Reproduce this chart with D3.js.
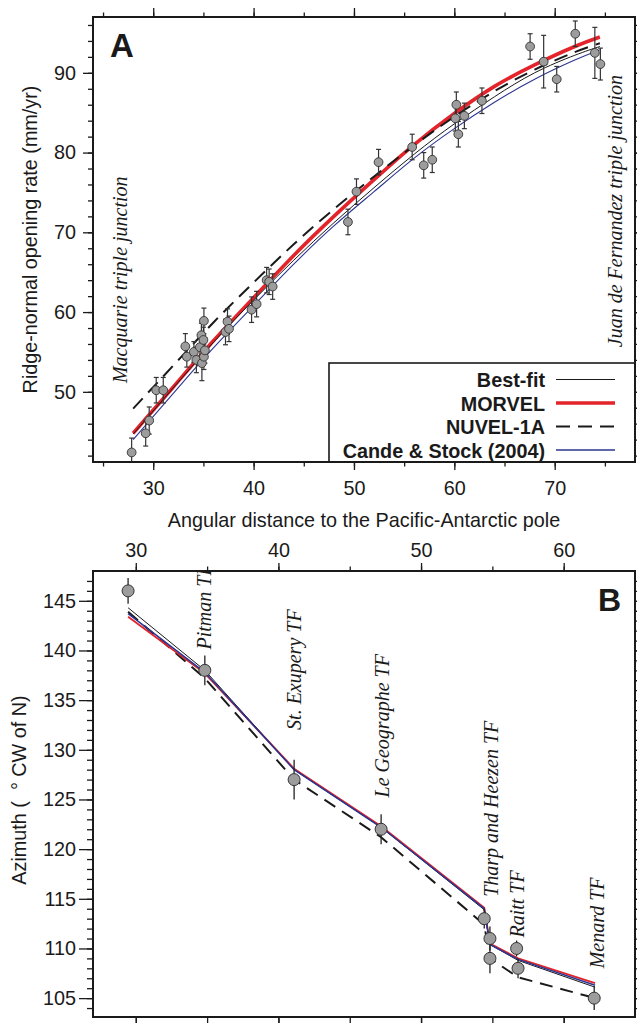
<!DOCTYPE html>
<html>
<head>
<meta charset="utf-8">
<script src="https://cdn.jsdelivr.net/npm/d3@7"></script>
<style>
  body { margin: 0; background: #fff; }
  svg text { font-family: "Liberation Sans", Arial, Helvetica, sans-serif; fill: #1a1a1a; }
</style>
</head>
<body>
<div id="vis"></div>
<script>
// ---- Panel A : ridge-normal opening rate vs angular distance ----
var rateDist = [27.85, 29.25, 29.6, 30.3, 31.0, 33.2, 33.35, 34.05, 34.3, 34.65, 34.8, 34.85, 35.0, 35.05,
                35.05, 35.15, 37.2, 37.4, 37.55, 39.8, 40.3, 41.3, 41.55, 41.9, 49.4, 50.25, 52.45, 55.8,
                56.95, 57.8, 60.1, 60.2, 60.4, 61.0, 62.75, 67.55, 68.9, 70.2, 72.05, 74.0, 74.55];
var rateObs  = [42.4, 44.8, 46.4, 50.2, 50.2, 55.7, 54.4, 55.0, 54.0, 55.6, 57.1, 53.6, 56.5, 58.9,
                54.4, 55.2, 57.5, 58.8, 57.9, 60.3, 61.0, 64.0, 63.8, 63.2, 71.3, 75.1, 78.8, 80.7,
                78.4, 79.1, 84.3, 86.0, 82.3, 84.6, 86.5, 93.3, 91.4, 89.2, 94.9, 92.5, 91.1];
var rateErr  = [1.8, 1.6, 1.7, 1.6, 1.6, 1.6, 1.3, 1.3, 1.6, 1.6, 1.5, 2.2, 1.6, 1.6,
                1.6, 1.6, 1.6, 1.6, 1.6, 1.6, 1.6, 1.6, 1.6, 1.6, 1.6, 1.6, 1.6, 1.6,
                1.6, 1.6, 1.6, 1.6, 1.6, 1.6, 1.6, 1.6, 3.3, 1.6, 1.6, 3.2, 2.0];

// model predictions
var curveDist   = [28, 32, 36, 40, 44, 48, 52, 56, 60, 64, 68, 72, 74.5];
var bestFitRate = [44.7, 50.5, 56.2, 61.5, 66.5, 71.2, 75.6, 79.8, 83.6, 87.0, 90.0, 92.2, 93.3];
var morvelRate  = [44.8, 50.6, 56.4, 61.8, 67.1, 72.0, 76.6, 81.0, 84.9, 88.3, 91.0, 93.3, 94.5];
var nuvelRate   = [47.9, 53.3, 58.7, 63.7, 68.5, 72.9, 77.0, 80.9, 84.5, 87.7, 90.4, 92.6, 93.7];
var candeRate   = [44.0, 49.8, 55.5, 60.8, 66.0, 70.8, 75.1, 79.3, 83.0, 86.3, 89.2, 91.6, 92.9];

var legendNames = ["Best-fit", "MORVEL", "NUVEL-1A", "Cande & Stock (2004)"];

// ---- Panel B : transform fault azimuths ----
var tfDist    = [29.46, 34.84, 41.1, 47.2, 54.43, 54.83, 54.83, 56.7, 56.8, 62.14];
var tfAzimuth = [146.0, 138.0, 127.0, 122.0, 113.0, 111.0, 109.0, 110.0, 108.0, 105.0];
var tfErr     = [1.3, 1.5, 2.0, 1.5, 1.0, 1.2, 1.5, 0.8, 1.0, 1.2];

var modelDist  = [29.46, 34.84, 41.1, 47.2, 54.43, 54.83, 56.8, 62.2];
var bestFitAz  = [144.3, 138.0, 128.0, 122.2, 113.9, 110.4, 108.8, 106.1];
var morvelAz   = [143.4, 137.7, 128.1, 122.3, 114.1, 110.5, 109.0, 106.5];
var nuvelAz    = [143.9, 137.2, 127.0, 121.2, 112.4, 109.0, 107.1, 105.0];
var candeAz    = [143.7, 137.8, 128.0, 122.2, 114.0, 110.4, 108.9, 106.3];

var tfNames = ["Pitman TF", "St. Exupery TF", "Le Geographe TF", "Tharp and Heezen TF", "Raitt TF", "Menard TF"];

var red = "#e3242b", blue = "#2b3592", dotFill = "#9c9c9c", ink = "#1a1a1a";

function styleTicks(g, size)
{
  g.select(".domain").remove();
  g.selectAll("line").attr("stroke", ink).attr("stroke-width", 1.3);
  g.selectAll("text")
    .style("font-size", size + "px")
    .style("font-family", "'Liberation Sans', Arial, sans-serif")
    .attr("fill", ink);
}

function axisPair(svg, axisFn, scale, major, minor, bigLen, smallLen, pad, pos, fmt)
{
  var gMinor = svg.append("g")
    .attr("transform", pos)
    .call(axisFn(scale).tickValues(minor).tickSize(smallLen).tickFormat(""));
  styleTicks(gMinor, 19);

  var gMajor = svg.append("g")
    .attr("transform", pos)
    .call(axisFn(scale).tickValues(major).tickSize(bigLen).tickPadding(pad).tickFormat(fmt));
  styleTicks(gMajor, 19.8);
  return gMajor;
}

function panelA(svg)
{
  var left = 93, right = 635, top = 17, bottom = 462;

  var x = d3.scaleLinear().domain([24, 78]).range([left, right]);
  var y = d3.scaleLinear().domain([41.2, 97]).range([bottom, top]);

  svg.append("clipPath").attr("id", "clipA")
    .append("rect").attr("x", left).attr("y", top).attr("width", right - left).attr("height", bottom - top);

  var plot = svg.append("g").attr("clip-path", "url(#clipA)");

  var line = function(ys) {
    return d3.line()
      .x(function(d, i) { return x(curveDist[i]); })
      .y(function(d) { return y(d); })
      .curve(d3.curveNatural)(ys);
  };

  plot.append("path").attr("d", line(morvelRate))
    .style("fill", "none").style("stroke", red).style("stroke-width", 3.6);
  plot.append("path").attr("d", line(bestFitRate))
    .style("fill", "none").style("stroke", ink).style("stroke-width", 1);
  plot.append("path").attr("d", line(candeRate))
    .style("fill", "none").style("stroke", blue).style("stroke-width", 1.1);
  plot.append("path").attr("d", line(nuvelRate))
    .style("fill", "none").style("stroke", ink).style("stroke-width", 2)
    .style("stroke-dasharray", "14,8");

  var idx = d3.range(rateDist.length);

  // error bars with caps
  var bars = plot.selectAll("g.err").data(idx).enter().append("g").attr("class", "err")
    .style("stroke", "#333").style("stroke-width", 1.2);
  bars.append("line")
    .attr("x1", function(i) { return x(rateDist[i]); })
    .attr("x2", function(i) { return x(rateDist[i]); })
    .attr("y1", function(i) { return y(rateObs[i] - rateErr[i]); })
    .attr("y2", function(i) { return y(rateObs[i] + rateErr[i]); });
  [-1, 1].forEach(function(s) {
    bars.append("line")
      .attr("x1", function(i) { return x(rateDist[i]) - 2.5; })
      .attr("x2", function(i) { return x(rateDist[i]) + 2.5; })
      .attr("y1", function(i) { return y(rateObs[i] + s * rateErr[i]); })
      .attr("y2", function(i) { return y(rateObs[i] + s * rateErr[i]); });
  });

  plot.selectAll("circle.obs").data(idx).enter().append("circle")
    .attr("class", "obs")
    .attr("cx", function(i) { return x(rateDist[i]); })
    .attr("cy", function(i) { return y(rateObs[i]); })
    .attr("r", 4.4)
    .style("fill", dotFill).style("stroke", "#333").style("stroke-width", 0.9);

  // triple junction labels
  var tj = [["Macquarie triple junction", 27.4, 51.1], ["Juan de Fernandez triple junction", 76.7, 55.6]];
  tj.forEach(function(t) {
    svg.append("text")
      .attr("transform", "translate(" + x(t[1]) + "," + y(t[2]) + ") rotate(-90)")
      .style("font-family", "'Liberation Serif', 'Times New Roman', serif")
      .style("font-style", "italic")
      .style("font-size", "20px")
      .text(t[0]);
  });

  // axes
  var majorX = [30, 40, 50, 60, 70], minorX = [25, 30, 35, 40, 45, 50, 55, 60, 65, 70, 75];
  var majorY = [50, 60, 70, 80, 90], minorY = d3.range(42, 97, 2);

  axisPair(svg, d3.axisBottom, x, majorX, minorX, 8, 4.5, 11, "translate(0," + bottom + ")", d3.format("d"));
  axisPair(svg, d3.axisTop, x, majorX, minorX, 9, 4.5, 0, "translate(0," + top + ")", function() { return ""; });
  axisPair(svg, d3.axisLeft, y, majorY, minorY, 10, 5, 7, "translate(" + left + ",0)", d3.format("d"));
  axisPair(svg, d3.axisRight, y, majorY, minorY, 8, 4, 0, "translate(" + right + ",0)", function() { return ""; });

  // legend
  var lg = svg.append("g");
  lg.append("rect")
    .attr("x", 329).attr("y", 363).attr("width", right - 329).attr("height", bottom - 363)
    .style("fill", "#fff").style("stroke", ink).style("stroke-width", 1.6);

  var legStroke = [ink, red, ink, blue];
  var legWidth = [1, 3.6, 2, 1.3];
  var legDash = [null, null, "14,8", null];
  legendNames.forEach(function(name, i) {
    var by = 387 + i * 23.5;
    lg.append("text")
      .attr("x", 545).attr("y", by)
      .style("text-anchor", "end")
      .style("font-weight", "bold")
      .style("font-size", "19.8px")
      .text(name);
    lg.append("line")
      .attr("x1", 556).attr("x2", 615).attr("y1", by - 7.5).attr("y2", by - 7.5)
      .style("stroke", legStroke[i]).style("stroke-width", legWidth[i])
      .style("stroke-dasharray", legDash[i]);
  });

  svg.append("rect")
    .attr("x", left).attr("y", top).attr("width", right - left).attr("height", bottom - top)
    .style("fill", "none").style("stroke", ink).style("stroke-width", 2);

  svg.append("text")
    .attr("x", 110).attr("y", 57)
    .style("font-weight", "bold").style("font-size", "33px")
    .text("A");

  svg.append("text")
    .attr("x", (left + right) / 2).attr("y", 527)
    .style("text-anchor", "middle").style("font-size", "19.8px")
    .text("Angular distance to the Pacific-Antarctic pole");

  svg.append("text")
    .attr("transform", "translate(37," + (top + bottom) / 2 + ") rotate(-90)")
    .style("text-anchor", "middle").style("font-size", "19.8px")
    .text("Ridge-normal opening rate (mm/yr)");
}

function panelB(svg)
{
  var left = 93, right = 635, top = 571, bottom = 1017;

  var x = d3.scaleLinear().domain([27, 65]).range([left, right]);
  var y = d3.scaleLinear().domain([103.1, 148]).range([bottom, top]);

  svg.append("clipPath").attr("id", "clipB")
    .append("rect").attr("x", left).attr("y", top).attr("width", right - left).attr("height", bottom - top);

  var plot = svg.append("g").attr("clip-path", "url(#clipB)");

  var line = function(ys) {
    return d3.line()
      .x(function(d, i) { return x(modelDist[i]); })
      .y(function(d) { return y(d); })(ys);
  };

  plot.append("path").attr("d", line(nuvelAz))
    .style("fill", "none").style("stroke", ink).style("stroke-width", 2)
    .style("stroke-dasharray", "13,8");
  plot.append("path").attr("d", line(morvelAz))
    .style("fill", "none").style("stroke", red).style("stroke-width", 1.8);
  plot.append("path").attr("d", line(bestFitAz))
    .style("fill", "none").style("stroke", ink).style("stroke-width", 1);
  plot.append("path").attr("d", line(candeAz))
    .style("fill", "none").style("stroke", blue).style("stroke-width", 1.5);

  // transform fault names
  var namePos = [[35.26, 140.1], [41.57, 132.0], [47.74, 125.2], [55.39, 115.2], [57.2, 111.1], [62.8, 108.0]];
  tfNames.forEach(function(name, i) {
    plot.append("text")
      .attr("transform", "translate(" + x(namePos[i][0]) + "," + y(namePos[i][1]) + ") rotate(-90)")
      .style("font-family", "'Liberation Serif', 'Times New Roman', serif")
      .style("font-style", "italic")
      .style("font-size", "20px")
      .text(name);
  });

  var idx = d3.range(tfDist.length);

  plot.selectAll("line.err").data(idx).enter().append("line")
    .attr("class", "err")
    .attr("x1", function(i) { return x(tfDist[i]); })
    .attr("x2", function(i) { return x(tfDist[i]); })
    .attr("y1", function(i) { return y(tfAzimuth[i] - tfErr[i]); })
    .attr("y2", function(i) { return y(tfAzimuth[i] + tfErr[i]); })
    .style("stroke", "#222").style("stroke-width", 1.3);

  plot.selectAll("circle.obs").data(idx).enter().append("circle")
    .attr("class", "obs")
    .attr("cx", function(i) { return x(tfDist[i]); })
    .attr("cy", function(i) { return y(tfAzimuth[i]); })
    .attr("r", 6)
    .style("fill", dotFill).style("stroke", "#333").style("stroke-width", 1);

  var majorX = [30, 40, 50, 60], minorX = [30, 35, 40, 45, 50, 55, 60];
  var majorY = [105, 110, 115, 120, 125, 130, 135, 140, 145], minorY = d3.range(104, 148, 1);

  axisPair(svg, d3.axisTop, x, majorX, minorX, 8, 4.5, 6, "translate(0," + top + ")", d3.format("d"));
  axisPair(svg, d3.axisBottom, x, majorX, minorX, 8, 6, 0, "translate(0," + bottom + ")", function() { return ""; });
  axisPair(svg, d3.axisLeft, y, majorY, minorY, 14, 6, 3, "translate(" + left + ",0)", d3.format("d"));
  axisPair(svg, d3.axisRight, y, majorY, minorY, 6, 4, 0, "translate(" + right + ",0)", function() { return ""; });

  svg.append("rect")
    .attr("x", left).attr("y", top).attr("width", right - left).attr("height", bottom - top)
    .style("fill", "none").style("stroke", ink).style("stroke-width", 2);

  svg.append("text")
    .attr("x", 598).attr("y", 611)
    .style("font-weight", "bold").style("font-size", "32px")
    .text("B");

  svg.append("text")
    .attr("transform", "translate(26," + 790 + ") rotate(-90)")
    .style("text-anchor", "middle").style("font-size", "19.8px")
    .text("Azimuth (\u00a0\u00a0\u00b0\u00a0CW of N)");
}

function init()
{
  var svg = d3.select("#vis")
    .append("svg")
    .attr("width", 637)
    .attr("height", 1023);

  svg.append("rect").attr("width", 637).attr("height", 1023).style("fill", "#fff");

  panelA(svg);
  panelB(svg);
}

window.onload = init;
</script>
</body>
</html>
